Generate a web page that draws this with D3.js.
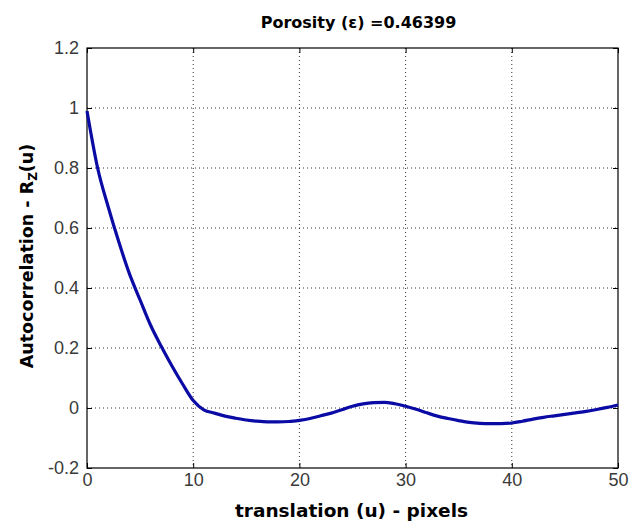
<!DOCTYPE html>
<html>
<head>
<meta charset="utf-8">
<script src="https://cdn.jsdelivr.net/npm/d3@7"></script>
<style>
  body { margin: 0; background: #fff; }
  .tick text { font-family: "Liberation Sans", Arial, sans-serif; font-size: 18px; fill: #3a3a3a; }
  .labels { font-family: "DejaVu Sans", Verdana, sans-serif; font-weight: bold; fill: #000; }
</style>
</head>
<body>
<div id="chart"></div>
<script>
// data
const title = "Porosity (\u03b5) =0.46399";
const xLabel = "translation (u) - pixels";
const shift = [0, 1, 2, 3, 4, 5, 6, 7, 8, 9, 10, 11, 12, 13, 14, 15, 16, 17, 18, 19, 20,
  21, 22, 23, 24, 25, 26, 27, 28, 29, 30, 31, 32, 33, 34, 35, 36, 37, 38, 39, 40,
  41, 42, 43, 44, 45, 46, 47, 48, 49, 50];
const autocorr = [0.99, 0.80, 0.67, 0.553, 0.447, 0.36, 0.275, 0.205, 0.14, 0.08, 0.025,
  -0.006, -0.017, -0.027, -0.034, -0.04, -0.044, -0.046, -0.046, -0.045, -0.041,
  -0.035, -0.026, -0.017, -0.006, 0.006, 0.014, 0.018, 0.019, 0.014, 0.006,
  -0.004, -0.016, -0.027, -0.035, -0.042, -0.048, -0.051, -0.052, -0.052, -0.05,
  -0.044, -0.037, -0.031, -0.026, -0.021, -0.016, -0.011, -0.005, 0.002, 0.01];
const xTicks = [0, 10, 20, 30, 40, 50];
const yTicks = [-0.2, 0, 0.2, 0.4, 0.6, 0.8, 1, 1.2];

const totalWidth = 636;
const totalHeight = 529;
const margins = { top: 48, right: 18, bottom: 61, left: 87 };
const chartWidth = totalWidth - margins.left - margins.right;
const chartHeight = totalHeight - margins.top - margins.bottom;

const svg = d3.select("#chart")
  .append("svg")
  .attr("width", totalWidth)
  .attr("height", totalHeight)
  .append("g")
  .attr("transform", `translate(${margins.left}, ${margins.top})`);

const x = d3.scaleLinear().domain([0, 50]).range([0, chartWidth]);
const y = d3.scaleLinear().domain([-0.2, 1.2]).range([chartHeight, 0]);

const fmt = (d) => String(+d.toFixed(1));

// dotted grid
svg.append("g").selectAll("line")
  .data(xTicks.slice(1, -1))
  .join("line")
  .attr("x1", (d) => x(d)).attr("x2", (d) => x(d))
  .attr("y1", 0).attr("y2", chartHeight)
  .attr("stroke", "#333").attr("stroke-width", 1).attr("stroke-dasharray", "1,3");

svg.append("g").selectAll("line")
  .data(yTicks.slice(1, -1))
  .join("line")
  .attr("x1", 0).attr("x2", chartWidth)
  .attr("y1", (d) => y(d)).attr("y2", (d) => y(d))
  .attr("stroke", "#333").attr("stroke-width", 1).attr("stroke-dasharray", "1,3");

// axes (ticks pointing inside, box around)
svg.append("g")
  .attr("transform", `translate(0, ${chartHeight})`)
  .call(d3.axisBottom(x).tickValues(xTicks).tickSize(-5).tickPadding(5).tickFormat(fmt))
  .call((g) => g.select(".domain").remove());

svg.append("g")
  .call(d3.axisLeft(y).tickValues(yTicks).tickSize(-5).tickPadding(8).tickFormat(fmt))
  .call((g) => g.select(".domain").remove());

svg.append("g")
  .call(d3.axisTop(x).tickValues(xTicks).tickSize(-5).tickFormat(""))
  .call((g) => g.select(".domain").remove());

svg.append("g")
  .attr("transform", `translate(${chartWidth}, 0)`)
  .call(d3.axisRight(y).tickValues(yTicks).tickSize(-5).tickFormat(""))
  .call((g) => g.select(".domain").remove());

svg.selectAll(".tick line").attr("stroke", "#000");
svg.selectAll(".tick text").attr("font-family", null).attr("font-size", null);

svg.append("rect")
  .attr("width", chartWidth).attr("height", chartHeight)
  .attr("fill", "none").attr("stroke", "#000").attr("stroke-width", 1.2);

// curve
const line = d3.line()
  .x((d, i) => x(shift[i]))
  .y((d) => y(d))
  .curve(d3.curveMonotoneX);

svg.append("path")
  .datum(autocorr)
  .attr("d", line)
  .attr("fill", "none")
  .attr("stroke", "#0a0aa5")
  .attr("stroke-width", 3.2)
  .attr("stroke-linejoin", "round");

// labels
svg.append("text")
  .attr("class", "labels")
  .attr("x", chartWidth / 2 + 6)
  .attr("y", -20)
  .attr("text-anchor", "middle")
  .attr("font-size", 16)
  .text(title);

svg.append("text")
  .attr("class", "labels")
  .attr("x", chartWidth / 2 - 1)
  .attr("y", chartHeight + 49)
  .attr("text-anchor", "middle")
  .attr("font-size", 18.5)
  .text(xLabel);

const yLab = svg.append("text")
  .attr("class", "labels")
  .attr("transform", `translate(-54, ${chartHeight / 2 - 2}) rotate(-90)`)
  .attr("text-anchor", "middle")
  .attr("font-size", 17.5);
yLab.append("tspan").text("Autocorrelation - R");
yLab.append("tspan").attr("font-size", 12).attr("dy", 4).text("Z");
yLab.append("tspan").attr("dy", -4).text("(u)");
</script>
</body>
</html>
